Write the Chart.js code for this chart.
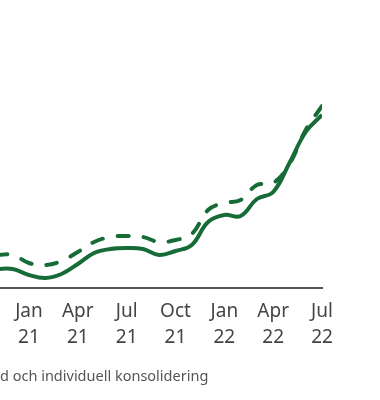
<!DOCTYPE html>
<html>
<head>
<meta charset="utf-8">
<script src="https://cdn.jsdelivr.net/npm/chart.js@4/dist/chart.umd.min.js"></script>
<style>
  body { margin: 0; background: #fff; }
  #wrap { position: relative; width: 380px; height: 400px; overflow: hidden; }
  #caption {
    position: absolute; left: 0; top: 365px;
    font-family: "Noto Sans", sans-serif; font-size: 14.5px; color: #555;
    white-space: nowrap;
  }
</style>
</head>
<body>
<div id="wrap">
  <canvas id="chart" width="380" height="400"></canvas>
  <div id="caption">d och individuell konsolidering</div>
</div>
<script>
// months counted from Jan 2021 (0 = Jan 21)
var months = [-2, -1, 0, 1, 2, 3, 4, 5, 6, 7, 8, 9, 10, 11, 12, 13, 14, 15, 16, 17, 18];
var solidSeries = [19, 19, 13, 10, 14, 24, 35, 39, 40, 39, 33, 37, 43, 66, 73, 72, 89, 96, 125, 156, 173];
var dashedSeries = [33, 33, 25, 23, 27, 36, 46, 51, 52, 51, 46, 48, 54, 78, 85, 88, 103, 105, 124, 158, 182];
var tickMonths = [0, 3, 6, 9, 12, 15, 18];
var tickLabels = [["Jan", "21"], ["Apr", "21"], ["Jul", "21"], ["Oct", "21"], ["Jan", "22"], ["Apr", "22"], ["Jul", "22"]];

var green = "#176b37";

function pts(vals) {
  return months.map(function (m, i) { return { x: m, y: vals[i] }; });
}

var ctx = document.getElementById("chart").getContext("2d");
var chart = new Chart(ctx, {
  type: "line",
  data: {
    datasets: [
      {
        label: "dashed",
        data: pts(dashedSeries),
        borderColor: green,
        borderWidth: 4,
        borderDash: [11, 15],
        borderCapStyle: "round",
        pointRadius: 0,
        tension: 0.4,
        fill: false
      },
      {
        label: "solid",
        data: pts(solidSeries),
        borderColor: green,
        borderWidth: 4,
        pointRadius: 0,
        tension: 0.4,
        fill: false
      }
    ]
  },
  options: {
    responsive: false,
    animation: false,
    layout: { padding: { left: 0, right: 58, top: 0, bottom: 0 } },
    plugins: { legend: { display: false }, tooltip: { enabled: false } },
    scales: {
      x: {
        type: "linear",
        min: -1.78,
        max: 18,
        grid: { display: false, drawTicks: false },
        border: { display: true, color: "#555", width: 2 },
        afterBuildTicks: function (scale) {
          scale.ticks = tickMonths.map(function (v) { return { value: v }; });
        },
        afterFit: function (scale) {
          scale.height = 112;
        },
        ticks: {
          autoSkip: false,
          maxRotation: 0,
          padding: 11,
          color: "#444",
          font: { family: "Noto Sans", size: 19, lineHeight: 1.35 },
          callback: function (value) {
            var i = tickMonths.indexOf(value);
            return i >= 0 ? tickLabels[i] : "";
          }
        }
      },
      y: {
        display: false,
        min: 0,
        max: 288
      }
    }
  }
});
</script>
</body>
</html>
